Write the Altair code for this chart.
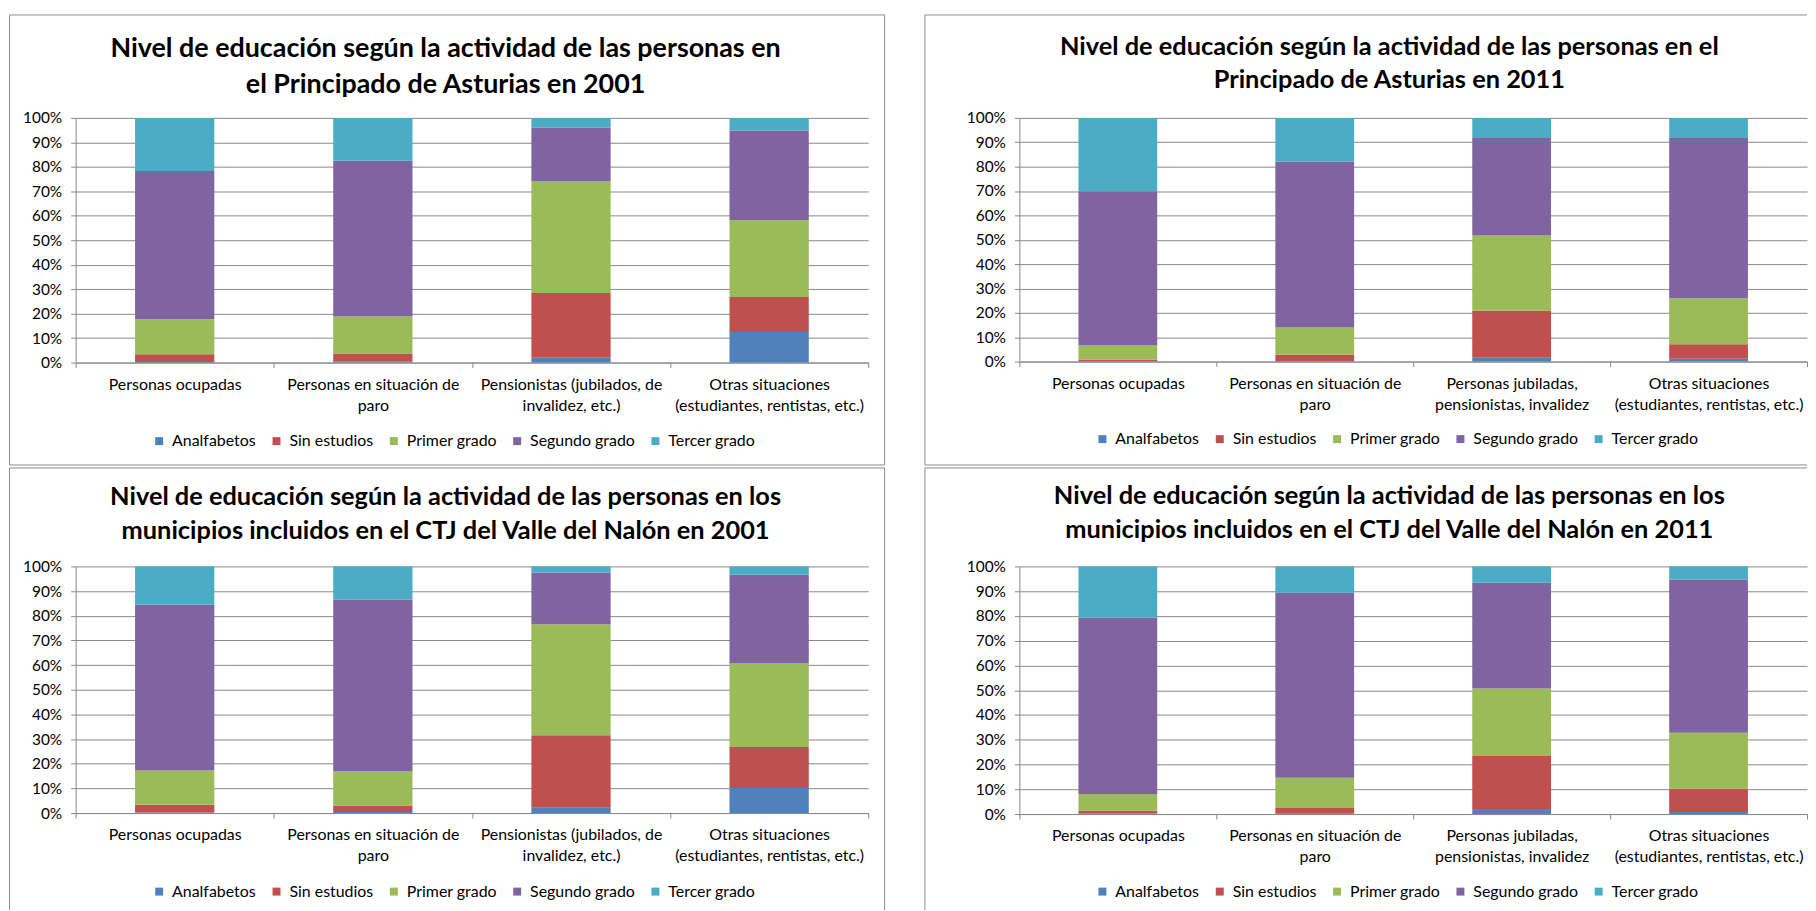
import altair as alt
import pandas as pd

FONT = "Lato"
GRID = "#888888"
BORDER = "#8c8c8c"

LEVELS = ["Analfabetos", "Sin estudios", "Primer grado", "Segundo grado", "Tercer grado"]
COLORS = ["#4F81BD", "#C0504D", "#9BBB59", "#8064A2", "#4BACC6"]

CATS_2001 = [
    "Personas ocupadas",
    "Personas en situación de|paro",
    "Pensionistas (jubilados, de|invalidez, etc.)",
    "Otras situaciones|(estudiantes, rentistas, etc.)",
]
CATS_2011 = [
    "Personas ocupadas",
    "Personas en situación de|paro",
    "Personas jubiladas,|pensionistas, invalidez",
    "Otras situaciones|(estudiantes, rentistas, etc.)",
]

TITLE_AST_2001 = "Nivel de educación según la actividad de las personas en|el Principado de Asturias en 2001"
TITLE_AST_2011 = "Nivel de educación según la actividad de las personas en el|Principado de Asturias en 2011"
TITLE_NAL_2001 = "Nivel de educación según la actividad de las personas en los|municipios incluidos en el CTJ del Valle del Nalón en 2001"
TITLE_NAL_2011 = "Nivel de educación según la actividad de las personas en los|municipios incluidos en el CTJ del Valle del Nalón en 2011"

# percentages per activity category (same order as the category lists)
AST_2001 = {
    "Analfabetos":   [0.2, 0.3, 2.0, 12.5],
    "Sin estudios":  [3.2, 3.4, 26.4, 14.3],
    "Primer grado":  [14.3, 15.1, 45.8, 31.4],
    "Segundo grado": [60.6, 63.7, 21.8, 36.7],
    "Tercer grado":  [21.7, 17.5, 4.0, 5.1],
}
AST_2011 = {
    "Analfabetos":   [0.2, 0.1, 1.6, 1.1],
    "Sin estudios":  [0.5, 2.7, 19.3, 6.0],
    "Primer grado":  [6.1, 11.2, 30.8, 18.9],
    "Segundo grado": [63.1, 68.1, 40.1, 65.8],
    "Tercer grado":  [30.1, 17.9, 8.2, 8.2],
}
NAL_2001 = {
    "Analfabetos":   [0.2, 0.4, 2.1, 10.2],
    "Sin estudios":  [3.2, 2.7, 29.4, 16.6],
    "Primer grado":  [13.9, 13.9, 45.1, 34.0],
    "Segundo grado": [67.2, 69.5, 20.9, 35.8],
    "Tercer grado":  [15.5, 13.5, 2.5, 3.4],
}
NAL_2011 = {
    "Analfabetos":   [0.2, 0.1, 2.0, 0.8],
    "Sin estudios":  [1.1, 2.3, 21.4, 9.5],
    "Primer grado":  [6.8, 12.3, 27.3, 22.5],
    "Segundo grado": [71.3, 74.7, 42.7, 61.8],
    "Tercer grado":  [20.6, 10.6, 6.6, 5.4],
}

ONE = pd.DataFrame({"k": [0]})


def hline(x1, x2, y):
    return alt.Chart(ONE).mark_rule(color=BORDER, strokeWidth=1).encode(
        x=alt.value(x1), x2=alt.value(x2), y=alt.value(y))


def vline(x, y1, y2):
    return alt.Chart(ONE).mark_rule(color=BORDER, strokeWidth=1).encode(
        x=alt.value(x), y=alt.value(y1), y2=alt.value(y2))


def panel(values, cats, title, w, h, frame, sides, tpos, lpos, tsize):
    rows = []
    for i, lev in enumerate(LEVELS):
        for c, v in zip(cats, values[lev]):
            rows.append({"cat": c, "level": lev, "ord": i, "v": v})
    df = pd.DataFrame(rows)

    bars = alt.Chart(df).mark_bar(width={"band": 0.4}).encode(
        x=alt.X("cat:N", sort=cats,
                scale=alt.Scale(paddingInner=0, paddingOuter=0),
                axis=alt.Axis(title=None, labelAngle=0, labelFont=FONT, labelFontSize=16,
                              labelColor="black", labelExpr="split(datum.label, '|')",
                              labelLineHeight=21, labelPadding=9, labelOverlap=False,
                              labelLimit=300, tickBand="extent", tickSize=5,
                              tickColor=GRID, domainColor=GRID, grid=False)),
        y=alt.Y("v:Q", stack="normalize", scale=alt.Scale(domain=[0, 1]),
                axis=alt.Axis(title=None, values=[i / 10 for i in range(11)], format=".0%",
                              labelFont=FONT, labelFontSize=15.5, labelColor="black",
                              labelPadding=9, tickSize=5, tickColor=GRID,
                              domainColor=GRID, gridColor=GRID, gridWidth=1, grid=True)),
        color=alt.Color("level:N", scale=alt.Scale(domain=LEVELS, range=COLORS),
                        legend=alt.Legend(title=None, orient="none", legendX=lpos[0],
                                          legendY=lpos[1], direction="horizontal", columns=5,
                                          symbolType="square", symbolSize=64,
                                          symbolStrokeWidth=0, labelFont=FONT,
                                          labelFontSize=16, labelColor="black",
                                          columnPadding=12, labelOffset=5)),
        order=alt.Order("ord:Q", sort="ascending"),
    ).properties(width=w, height=h)

    ttl = alt.Chart(pd.DataFrame({"t": [title]})).mark_text(
        font=FONT, fontSize=tsize, fontWeight="bold", lineBreak="|", lineHeight=tpos[2],
        align="center", baseline="alphabetic", color="black"
    ).encode(text="t:N", x=alt.value(tpos[0]), y=alt.value(tpos[1]))

    left, right, top, bottom = frame
    deco = [hline(left, right, top), vline(left, top, bottom)]
    if "bottom" in sides:
        deco.append(hline(left, right, bottom))
    if "right" in sides:
        deco.append(vline(right, top, bottom))
    return alt.layer(*deco, ttl, bars)


tl = panel(AST_2001, CATS_2001, TITLE_AST_2001, 797, 246,
           (-66.5, 813.5, -103.5, 349), ("bottom", "right"), (372, -61.5, 36), (76, 317), 27)
bl = panel(NAL_2001, CATS_2001, TITLE_NAL_2001, 797, 248,
           (-66.5, 813.5, -99, 345.5), ("right",), (372, -61.5, 33.5), (76, 319), 25.5)
tr = panel(AST_2011, CATS_2011, TITLE_AST_2011, 792, 245,
           (-95, 792, -103.5, 349), ("bottom",), (372, -63.5, 33.5), (75.5, 315), 25.5)
br = panel(NAL_2011, CATS_2011, TITLE_NAL_2011, 792, 249,
           (-95, 792, -99, 345.5), (), (372, -62.5, 33.5), (75.5, 319), 25.5)

left_col = alt.vconcat(tl, bl, spacing=1).resolve_scale(
    x="independent", y="independent", color="independent")
right_col = alt.vconcat(tr, br, spacing=1).resolve_scale(
    x="independent", y="independent", color="independent")

chart = alt.hconcat(left_col, right_col, spacing=38).properties(
    padding={"left": 0, "top": 3, "right": 0, "bottom": 0},
    background="white",
).resolve_scale(x="independent", y="independent", color="independent").configure_view(
    stroke="transparent")

chart.save("out.html", embed_options={"renderer": "svg", "actions": False})
